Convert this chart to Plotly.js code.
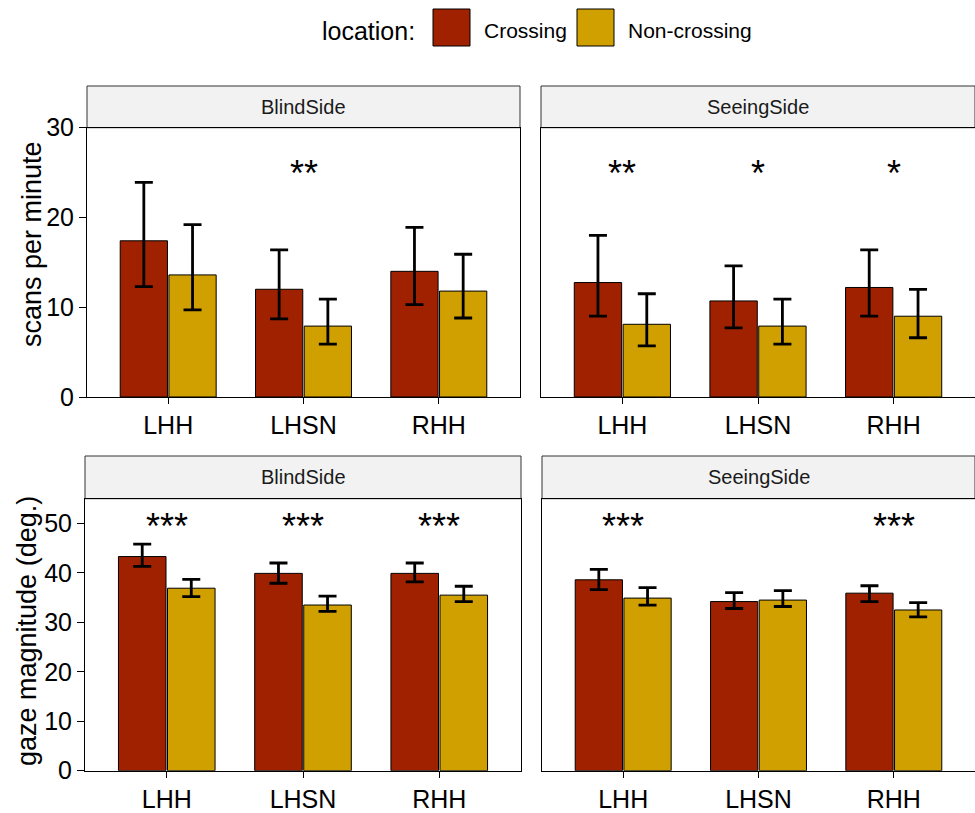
<!DOCTYPE html>
<html>
<head>
<meta charset="utf-8">
<script src="https://cdn.plot.ly/plotly-3.0.1.min.js"></script>
<style>html,body{margin:0;padding:0;background:#fff;}#chart{width:975px;height:813px;}</style>
</head>
<body>
<div id="chart"></div>
<script>
// ---------- data ----------
const categories = ['LHH', 'LHSN', 'RHH'];
const seriesNames = ['Crossing', 'Non-crossing'];
const panelNames = ['BlindSide', 'SeeingSide'];

// scans per minute – BlindSide
const scanBlindCross   = [17.4, 12.0, 14.0];
const scanBlindCrossLo = [12.3, 8.7, 10.3];
const scanBlindCrossHi = [23.9, 16.4, 18.9];
const scanBlindNon     = [13.6, 7.9, 11.8];
const scanBlindNonLo   = [9.7, 5.9, 8.8];
const scanBlindNonHi   = [19.2, 10.9, 15.9];
// scans per minute – SeeingSide
const scanSeeCross   = [12.75, 10.7, 12.2];
const scanSeeCrossLo = [9.0, 7.7, 9.0];
const scanSeeCrossHi = [18.0, 14.6, 16.4];
const scanSeeNon     = [8.1, 7.9, 9.0];
const scanSeeNonLo   = [5.7, 5.9, 6.6];
const scanSeeNonHi   = [11.5, 10.9, 12.0];
// gaze magnitude – BlindSide
const gazeBlindCross   = [43.3, 39.9, 39.9];
const gazeBlindCrossLo = [41.3, 37.9, 38.2];
const gazeBlindCrossHi = [45.8, 42.0, 42.0];
const gazeBlindNon     = [36.9, 33.5, 35.5];
const gazeBlindNonLo   = [35.2, 32.2, 34.2];
const gazeBlindNonHi   = [38.7, 35.3, 37.3];
// gaze magnitude – SeeingSide
const gazeSeeCross   = [38.6, 34.2, 35.9];
const gazeSeeCrossLo = [36.6, 32.8, 34.2];
const gazeSeeCrossHi = [40.7, 36.0, 37.4];
const gazeSeeNon     = [34.9, 34.5, 32.5];
const gazeSeeNonLo   = [33.5, 33.2, 31.1];
const gazeSeeNonHi   = [37.0, 36.4, 34.0];

// significance labels
const scanBlindStars = ['', '**', ''];
const scanSeeStars   = ['**', '*', '*'];
const gazeBlindStars = ['***', '***', '***'];
const gazeSeeStars   = ['***', '', '***'];

// ---------- styling ----------
const W = 975, H = 813;
const colCross = '#9F2100', colNon = '#CFA000';
const FONT = 'Liberation Sans, Arial, sans-serif';

function px(x) { return x / W; }
function py(y) { return (H - y) / H; }

function barTrace(name, vals, lo, hi, color, xa, ya) {
  return {
    type: 'bar', name: name, x: categories, y: vals,
    xaxis: xa, yaxis: ya,
    marker: { color: color, line: { color: '#000', width: 1 } },
    error_y: {
      type: 'data', symmetric: false,
      array: hi.map((h, i) => h - vals[i]),
      arrayminus: vals.map((v, i) => v - lo[i]),
      color: '#000', thickness: 2.8, width: 9
    },
    hoverinfo: 'skip', showlegend: false
  };
}

const data = [
  barTrace(seriesNames[0], scanBlindCross, scanBlindCrossLo, scanBlindCrossHi, colCross, 'x', 'y'),
  barTrace(seriesNames[1], scanBlindNon, scanBlindNonLo, scanBlindNonHi, colNon, 'x', 'y'),
  barTrace(seriesNames[0], scanSeeCross, scanSeeCrossLo, scanSeeCrossHi, colCross, 'x2', 'y2'),
  barTrace(seriesNames[1], scanSeeNon, scanSeeNonLo, scanSeeNonHi, colNon, 'x2', 'y2'),
  barTrace(seriesNames[0], gazeBlindCross, gazeBlindCrossLo, gazeBlindCrossHi, colCross, 'x3', 'y3'),
  barTrace(seriesNames[1], gazeBlindNon, gazeBlindNonLo, gazeBlindNonHi, colNon, 'x3', 'y3'),
  barTrace(seriesNames[0], gazeSeeCross, gazeSeeCrossLo, gazeSeeCrossHi, colCross, 'x4', 'y4'),
  barTrace(seriesNames[1], gazeSeeNon, gazeSeeNonLo, gazeSeeNonHi, colNon, 'x4', 'y4')
];

// panel geometry (pixels)
const topPlot = [127.7, 397], topStrip = 86;
const botPlot = [498.7, 770.7], botStrip = 456;
const leftTop = [87, 520], rightTop = [541, 975];
const leftBot = [85, 521], rightBot = [542, 975];

function xax(dom, anchor) {
  return {
    domain: [px(dom[0]), px(dom[1])], anchor: anchor, type: 'category',
    range: [-0.6, 2.6], showline: true, mirror: true, linecolor: '#000', linewidth: 1,
    ticks: 'outside', ticklen: 6, tickwidth: 1, tickcolor: '#000',
    tickfont: { family: FONT, size: 25, color: '#000' },
    showgrid: false, zeroline: false, fixedrange: true
  };
}
function yax(dom, anchor, range, labels) {
  return {
    domain: [py(dom[1]), py(dom[0])], anchor: anchor, range: range, dtick: 10, tick0: 0,
    showline: true, mirror: true, linecolor: '#000', linewidth: 1,
    ticks: labels ? 'outside' : '', ticklen: 7, tickwidth: 1, tickcolor: '#000',
    showticklabels: labels,
    tickfont: { family: FONT, size: 25, color: '#000' },
    showgrid: false, zeroline: false, fixedrange: true
  };
}

const shapes = [];
const annotations = [];

function strip(xd, y0, y1, label) {
  shapes.push({ type: 'rect', xref: 'paper', yref: 'paper',
    x0: px(xd[0]), x1: px(xd[1]), y0: py(y1), y1: py(y0),
    fillcolor: '#F2F2F2', line: { color: '#333333', width: 1 }, layer: 'below' });
  annotations.push({ xref: 'paper', yref: 'paper', x: px((xd[0] + xd[1]) / 2), y: py((y0 + y1) / 2),
    text: label, showarrow: false, xanchor: 'center', yanchor: 'middle',
    font: { family: FONT, size: 20, color: '#1A1A1A' } });
}
strip(leftTop, topStrip, topPlot[0], panelNames[0]);
strip(rightTop, topStrip, topPlot[0], panelNames[1]);
strip(leftBot, botStrip, botPlot[0], panelNames[0]);
strip(rightBot, botStrip, botPlot[0], panelNames[1]);

function stars(labels, xa, ya, yv) {
  labels.forEach((s, i) => {
    if (!s) return;
    annotations.push({ xref: xa, yref: ya, x: categories[i], y: yv, text: s,
      showarrow: false, xanchor: 'center', yanchor: 'middle',
      font: { family: FONT, size: 36, color: '#000' } });
  });
}
stars(scanBlindStars, 'x', 'y', 24.85);
stars(scanSeeStars, 'x2', 'y2', 24.85);
stars(gazeBlindStars, 'x3', 'y3', 49.4);
stars(gazeSeeStars, 'x4', 'y4', 49.4);

// y-axis titles
annotations.push({ xref: 'paper', yref: 'paper', x: px(32), y: py(244),
  text: 'scans per minute', textangle: -90, showarrow: false, xanchor: 'center', yanchor: 'middle',
  font: { family: FONT, size: 27, color: '#000' } });
annotations.push({ xref: 'paper', yref: 'paper', x: px(27), y: py(631),
  text: 'gaze magnitude (deg.)', textangle: -90, showarrow: false, xanchor: 'center', yanchor: 'middle',
  font: { family: FONT, size: 27, color: '#000' } });

// legend
annotations.push({ xref: 'paper', yref: 'paper', x: px(417), y: py(31), text: 'location:',
  showarrow: false, xanchor: 'right', yanchor: 'middle', font: { family: FONT, size: 25, color: '#000' } });
const legendKeys = [[433, 470, colCross, seriesNames[0], 482], [577, 614, colNon, seriesNames[1], 626]];
legendKeys.forEach(k => {
  shapes.push({ type: 'rect', xref: 'paper', yref: 'paper', x0: px(k[0]), x1: px(k[1]), y0: py(46), y1: py(9),
    fillcolor: k[2], line: { color: '#000', width: 1 } });
  annotations.push({ xref: 'paper', yref: 'paper', x: px(k[4]), y: py(30), text: k[3],
    showarrow: false, xanchor: 'left', yanchor: 'middle', font: { family: FONT, size: 21, color: '#000' } });
});

const layout = {
  width: W, height: H, margin: { l: 0, r: 0, t: 0, b: 0 },
  paper_bgcolor: '#fff', plot_bgcolor: '#fff', showlegend: false,
  barmode: 'group', bargap: 0.28, bargroupgap: 0.03,
  font: { family: FONT },
  xaxis: xax(leftTop, 'y'), yaxis: yax(topPlot, 'x', [0, 30], true),
  xaxis2: xax(rightTop, 'y2'), yaxis2: yax(topPlot, 'x2', [0, 30], false),
  xaxis3: xax(leftBot, 'y3'), yaxis3: yax(botPlot, 'x3', [0, 55], true),
  xaxis4: xax(rightBot, 'y4'), yaxis4: yax(botPlot, 'x4', [0, 55], false),
  shapes: shapes, annotations: annotations
};

Plotly.newPlot('chart', data, layout, { displayModeBar: false, staticPlot: true });
</script>
</body>
</html>
